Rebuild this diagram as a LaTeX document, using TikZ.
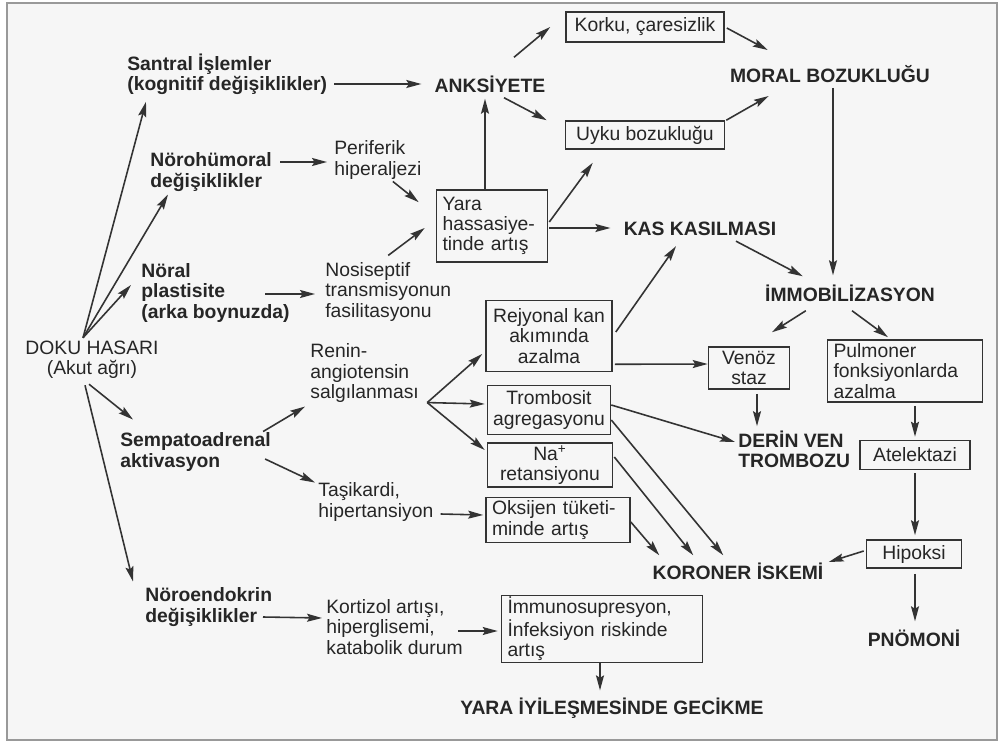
\documentclass[tikz,border=0pt]{standalone}
\usepackage{fontspec}
\setmainfont{Liberation Sans}
\usetikzlibrary{arrows.meta,calc}

\begin{document}
\begin{tikzpicture}[x=0.2mm,y=-0.2mm,
    every node/.style={font=\fontsize{11}{11.5}\selectfont, text=black!85, inner sep=1mm},
    bold/.style={font=\fontsize{11}{11.5}\selectfont\bfseries},
    box/.style={draw=black!80, line width=0.9pt, inner sep=0pt},
    lbox/.style={box, align=left, inner xsep=1.2mm},
    arr/.style={-{Stealth[length=3mm,width=1.6mm,inset=0.5mm]}, line width=0.9pt, draw=black!80}]
    \useasboundingbox (0,0) rectangle (1000,743);
    \fill[white] (0,0) rectangle (1000,743);
    \draw[fill=gray!7, draw=gray!80, line width=1pt] (7,3) rectangle (997,740);

    % left column
    \node[align=center] (doku) at (92,360) {DOKU HASARI\\(Akut ağrı)};
    \node[bold, anchor=west, align=left] (santral) at (122,74) {Santral İşlemler\\(kognitif değişiklikler)};
    \node[bold, anchor=west, align=left] (norohum) at (145,172) {Nörohümoral\\değişiklikler};
    \node[bold, anchor=west, align=left] (noral) at (136,293) {Nöral\\plastisite\\(arka boynuzda)};
    \node[bold, anchor=west, align=left] (sempato) at (115,452) {Sempatoadrenal\\aktivasyon};
    \node[bold, anchor=west, align=left] (noroendo) at (140,607) {Nöroendokrin\\değişiklikler};

    % second column
    \node[anchor=west, align=left] (perif) at (329,160) {Periferik\\hiperaljezi};
    \node[anchor=west, align=left] (nosis) at (320,292) {Nosiseptif\\transmisyonun\\fasilitasyonu};
    \node[anchor=west, align=left] (renin) at (305,373) {Renin-\\angiotensin\\salgılanması};
    \node[anchor=west, align=left] (tasik) at (313,502) {Taşikardi,\\hipertansiyon};
    \node[anchor=west, align=left] (kortizol) at (321,627) {Kortizol artışı,\\hiperglisemi,\\katabolik durum};

    % middle
    \node[bold] (anks) at (490,84) {ANKSİYETE};
    \node[box, minimum width=31.6mm, minimum height=6mm] (korku) at (645,27) {Korku, çaresizlik};
    \node[box, minimum width=31.8mm, minimum height=5.6mm] (uyku) at (645,135) {Uyku bozukluğu};
    \node[lbox, text width=19.8mm, minimum height=14.4mm] (yara) at (492,226) {Yara\\hassasiye-\\tinde artış};
    \node[box, align=center, minimum width=25.2mm, minimum height=14.2mm] (rejyon) at (549,336) {Rejyonal kan\\akımında\\azalma};
    \node[box, align=center, minimum width=24.6mm, minimum height=9.8mm] (tromb) at (549,410) {Trombosit\\agregasyonu};
    \node[box, align=center, minimum width=25mm, minimum height=8.8mm] (na) at (550,465) {Na\textsuperscript{+}\\retansiyonu};
    \node[lbox, text width=26.4mm, minimum height=9mm] (oksi) at (558,520) {Oksijen tüketi-\\minde artış};
    \node[lbox, text width=37.8mm, minimum height=13.4mm] (immuno) at (602,629) {İmmunosupresyon,\\İnfeksiyon riskinde\\artış};
    \node[bold] (gecikme) at (612,708) {YARA İYİLEŞMESİNDE GECİKME};

    % right
    \node[bold] (moral) at (830,74) {MORAL BOZUKLUĞU};
    \node[bold] (kas) at (700,229) {KAS KASILMASI};
    \node[bold] (immob) at (850,293) {İMMOBİLİZASYON};
    \node[box, align=center, minimum width=16.2mm, minimum height=8.4mm] (venoz) at (749,368) {Venöz\\staz};
    \node[lbox, text width=28.6mm, minimum height=12.4mm] (pulmo) at (905,371) {Pulmoner\\fonksiyonlarda\\azalma};
    \node[bold, anchor=west, align=left] (derin) at (733,449) {DERİN VEN\\TROMBOZU};
    \node[box, minimum width=22mm, minimum height=5.8mm] (atel) at (915,455) {Atelektazi};
    \node[box, minimum width=19mm, minimum height=5.6mm] (hipoksi) at (914,554) {Hipoksi};
    \node[bold] (koroner) at (738,571) {KORONER İSKEMİ};
    \node[bold] (pnomoni) at (914,638) {PNÖMONİ};

    % arrows from DOKU HASARI
    \draw[arr] ($(doku.north)+(-9,2)$) -- ($(santral.south west)+(24,2)$);
    \draw[arr] ($(doku.north)+(-9,2)$) -- ($(norohum.south west)+(23,-2)$);
    \draw[arr] ($(doku.north)+(-9,2)$) -- ($(noral.west)+(-5,-8)$);
    \draw[arr] ($(doku.south)+(-3,0)$) -- ($(sempato.north west)+(18,-8)$);
    \draw[arr] ($(doku.south)+(-7,1)$) -- ($(noroendo.north west)+(-7,-1)$);

    \draw[arr] ($(santral.east)+(2,10)$) -- ($(anks.west)+(-8,0)$);
    \draw[arr] ($(norohum.east)+(3,-10)$) -- ($(perif.west)+(-2,2)$);
    \draw[arr] ($(perif.south)+(15,-3)$) -- ($(yara.north west)+(-17,13)$);
    \draw[arr] ($(nosis.north)+(0,-2)$) -- ($(yara.west)+(-11,2)$);
    \draw[arr] ($(noral.west)+(129,1)$) -- ($(nosis.west)+(-5,2)$);

    \draw[arr] ($(yara.north)+(-7,0)$) -- ($(anks.south)+(-5,1)$);
    \draw[arr] ($(anks.north)+(24,-13)$) -- ($(korku.west)+(-15,0)$);
    \draw[arr] ($(anks.south)+(14,0)$) -- ($(uyku.north west)+(-18,0)$);
    \draw[arr] ($(korku.east)+(2,1)$) -- ($(moral.north west)+(43,-10)$);
    \draw[arr] ($(uyku.north east)+(1,0)$) -- ($(moral.south west)+(44,8)$);
    \draw[arr] ($(yara.east)+(1,-4)$) -- ($(uyku.south west)+(28,13)$);
    \draw[arr] ($(yara.east)+(1,2)$) -- ($(kas.west)+(-8,-1)$);

    \draw[arr] ($(moral.south)+(3,0)$) -- ($(immob.north)+(-17,-4)$);
    \draw[arr] ($(kas.south)+(36,0)$) -- ($(immob.north west)+(43,-3)$);
    \draw[arr] ($(rejyon.east)+(3,-4)$) -- ($(kas.south)+(-24,5)$);
    \draw[arr] ($(rejyon.south east)+(2,-8)$) -- ($(venoz.west)+(0,-4)$);
    \draw[arr] ($(immob.south west)+(46,4)$) -- ($(venoz.north)+(23,-14)$);
    \draw[arr] ($(immob.south)+(2,4)$) -- ($(pulmo.north)+(-17,-2)$);
    \draw[arr] ($(venoz.south)+(8,4)$) -- ($(derin.north west)+(24,1)$);
    \draw[arr] ($(pulmo.south)+(10,3)$) -- ($(atel.north)+(0,-3)$);
    \draw[arr] ($(atel.south)+(0,3)$) -- ($(hipoksi.north)+(1,-4)$);
    \draw[arr] ($(hipoksi.west)+(-2,-3)$) -- ($(koroner.east)+(0,-9)$);
    \draw[arr] ($(hipoksi.south)+(1,5)$) -- ($(pnomoni.north)+(1,-3)$);

    \draw[arr] ($(sempato.north east)+(-13,4)$) -- ($(renin.south west)+(0,-1)$);
    \draw[arr] ($(sempato.east)+(-11,7)$) -- ($(tasik.north west)+(2,5)$);
    \draw[arr] ($(renin.south east)+(3,-5)$) -- ($(rejyon.west)+(-3,18)$);
    \draw[arr] ($(renin.south east)+(3,-5)$) -- ($(tromb.west)+(-2,-6)$);
    \draw[arr] ($(renin.south east)+(3,-5)$) -- ($(na.west)+(-2,-15)$);
    \draw[arr] ($(tasik.east)+(2,12)$) -- ($(oksi.west)+(-2,-5)$);

    \draw[arr] ($(tromb.east)+(0,-5)$) -- ($(derin.west)+(2,-7)$);
    \draw[arr] ($(tromb.east)+(0,10)$) -- ($(koroner.north west)+(76,-2)$);
    \draw[arr] ($(na.east)+(1,-8)$) -- ($(koroner.north west)+(46,-2)$);
    \draw[arr] ($(oksi.east)+(0,2)$) -- ($(koroner.north west)+(12,-2)$);

    \draw[arr] ($(noroendo.west)+(123,10)$) -- ($(kortizol.west)+(1,-9)$);
    \draw[arr] ($(kortizol.west)+(137,4)$) -- ($(immuno.west)+(-3,2)$);
    \draw[arr] ($(immuno.south)+(-2,0)$) -- ($(gecikme.north)+(-12,-2)$);
\end{tikzpicture}
\end{document}
